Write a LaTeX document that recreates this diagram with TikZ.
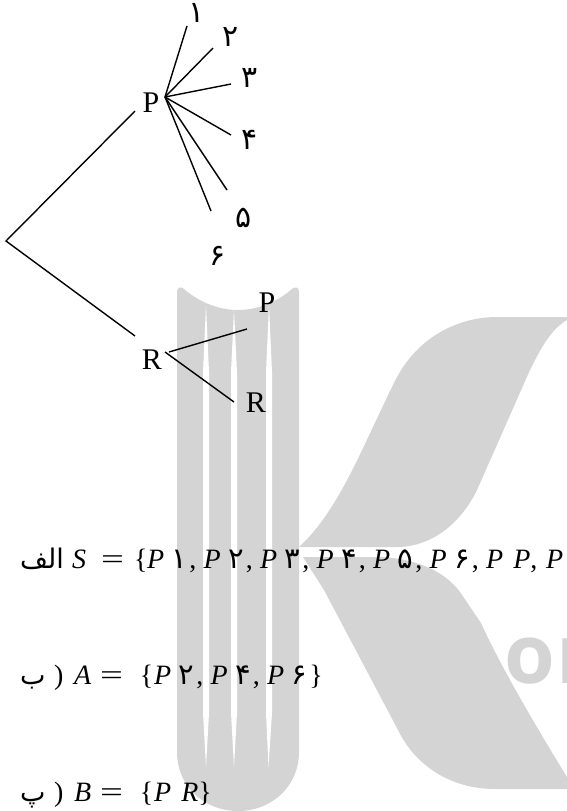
\documentclass[tikz,border=0pt]{standalone}
\usepackage{fontspec}
\setmainfont{Liberation Serif}
\newfontfamily\fa[Script=Arabic]{DejaVu Sans}
\newfontfamily\wm{Open Sans}
\TeXXeTstate=1
\newcommand{\fd}[1]{{\fa\fontsize{30}{30}\selectfont #1}}
\newcommand{\ed}[1]{{\fa\fontsize{29}{29}\selectfont #1}}
\newcommand{\eqi}[1]{{\itshape #1}}
\newcommand{\pdig}[1]{\eqi{P}\hspace{5pt}\makebox[20pt][c]{\ed{#1}}}
\newcommand{\pair}[1]{\makebox[56.5pt][l]{\pdig{#1},}}
\newcommand{\eqs}{\makebox[34pt][l]{\hspace{1pt}\scalebox{1.45}[1]{=}}}
\newcommand{\ara}[2]{{\fa\fontsize{#2}{#2}\selectfont\beginR #1\endR}}
\tikzset{
  edge/.style={line width=1.4pt,black},
  lab/.style={font=\fontsize{30}{30}\selectfont,inner sep=0pt},
  dig/.style={inner sep=0pt},
  eqn/.style={anchor=base west,inner sep=0pt,font=\fontsize{28}{30}\selectfont},
  wmk/.style={fill=black!17,draw=none}
}
\begin{document}
\begin{tikzpicture}[x=1pt,y=-1pt]
\useasboundingbox (0,0) rectangle (567,811);
\begin{scope}
\clip (0,0) rectangle (567,811);
% watermark
\path[wmk] (177,292) .. controls (177,287) and (181,286) .. (184,289)
  .. controls (200,303) and (220,310) .. (238,310)
  .. controls (256,310) and (276,303) .. (292,289)
  .. controls (295,286) and (299,287) .. (299,292)
  -- (299,752) .. controls (299,786) and (272,811) .. (238,811)
  .. controls (204,811) and (177,786) .. (177,752) -- cycle;
\path[fill=white] (206,305) -- (209,372) -- (209,713) -- (206,767) -- (203,713) -- (203,372) -- cycle;
\path[fill=white] (234,310) -- (237,372) -- (237,713) -- (234,767) -- (231,713) -- (231,372) -- cycle;
\path[fill=white] (269,305) -- (272,372) -- (272,713) -- (268.5,767) -- (266,713) -- (266,372) -- cycle;
\path[wmk] (299,547) .. controls (340,510) and (365,440) .. (397,377)
  .. controls (420,335) and (460,317) .. (497,317)
  -- (567,317) -- (567,320)
  .. controls (550,330) and (540,350) .. (530,370)
  -- (477,490) .. controls (460,525) and (430,547) .. (397,547) -- cycle;
\path[wmk] (303,557) -- (383,557) .. controls (420,560) and (445,572) .. (460,592)
  -- (481,623) .. controls (500,665) and (535,725) .. (567,777)
  -- (567,789) -- (495,789)
  .. controls (450,789) and (415,765) .. (398,730)
  -- (324,590) -- cycle;
\node[anchor=base west,inner sep=0pt,text=black!17,font=\wm\bfseries\fontsize{82}{82}\selectfont] (wmtext) at (504,683) {o\kern2pt n};
\end{scope}
% tree
\coordinate (root) at (6,241);
\coordinate (toP) at (135,111);
\coordinate (toR) at (135,336);
\coordinate (hubP) at (165,97);
\coordinate (hubRa) at (169,352);
\coordinate (hubRb) at (165,352);
\coordinate (e1) at (187,26);
\coordinate (e2) at (213,48);
\coordinate (e3) at (231,84);
\coordinate (e4) at (231,135);
\coordinate (e5) at (227,190);
\coordinate (e6) at (211,211);
\coordinate (eP) at (247,329);
\coordinate (eR) at (234,402);
\node[lab] (P1) at (151,103) {P};
\node[lab] (R1) at (152,360) {R};
\node[lab] (P2) at (267,303) {P};
\node[lab] (R2) at (256,403) {R};
\node[dig] (d1) at (197,13) {\fd{۱}};
\node[dig] (d2) at (231,37) {\fd{۲}};
\node[dig] (d3) at (250,78) {\fd{۳}};
\node[dig] (d4) at (250,140) {\fd{۴}};
\node[dig] (d5) at (244,218) {\fd{۵}};
\node[dig] (d6) at (218,256) {\fd{۶}};
\draw[edge] (toP) -- (root) -- (toR);
\foreach \e in {e1,e2,e3,e4,e5,e6} \draw[edge] (hubP) -- (\e);
\draw[edge] (hubRa) -- (eP);
\draw[edge] (hubRb) -- (eR);
% equations
\begin{scope}
\clip (0,0) rectangle (567,811);
\node[eqn] (eq1) at (20,568) {\makebox[52pt][l]{\ara{الف}{27}}\makebox[28pt][l]{\eqi{S}}\eqs\makebox[13pt][l]{\{}\pair{۱}\pair{۲}\pair{۳}\pair{۴}\pair{۵}\pair{۶}\makebox[60pt][l]{\eqi{P}\hspace{10pt}\eqi{P},}\eqi{P}\hspace{10pt}\eqi{R}};
\end{scope}
\node[eqn] (eq2) at (20,684) {\makebox[34pt][l]{\ara{ب}{27}}\makebox[20pt][l]{)}\makebox[25pt][l]{\eqi{A}}\eqs\makebox[21pt][r]{\{\hspace{1pt}}\pair{۲}\pair{۴}\pdig{۶}\}};
\node[eqn] (eq3) at (20,801) {\makebox[34pt][l]{\ara{پ}{27}}\makebox[20pt][l]{)}\makebox[25pt][l]{\eqi{B}}\eqs\makebox[21pt][r]{\{\hspace{1pt}}\eqi{P}\hspace{10pt}\eqi{R}\}};
\end{tikzpicture}
\end{document}
